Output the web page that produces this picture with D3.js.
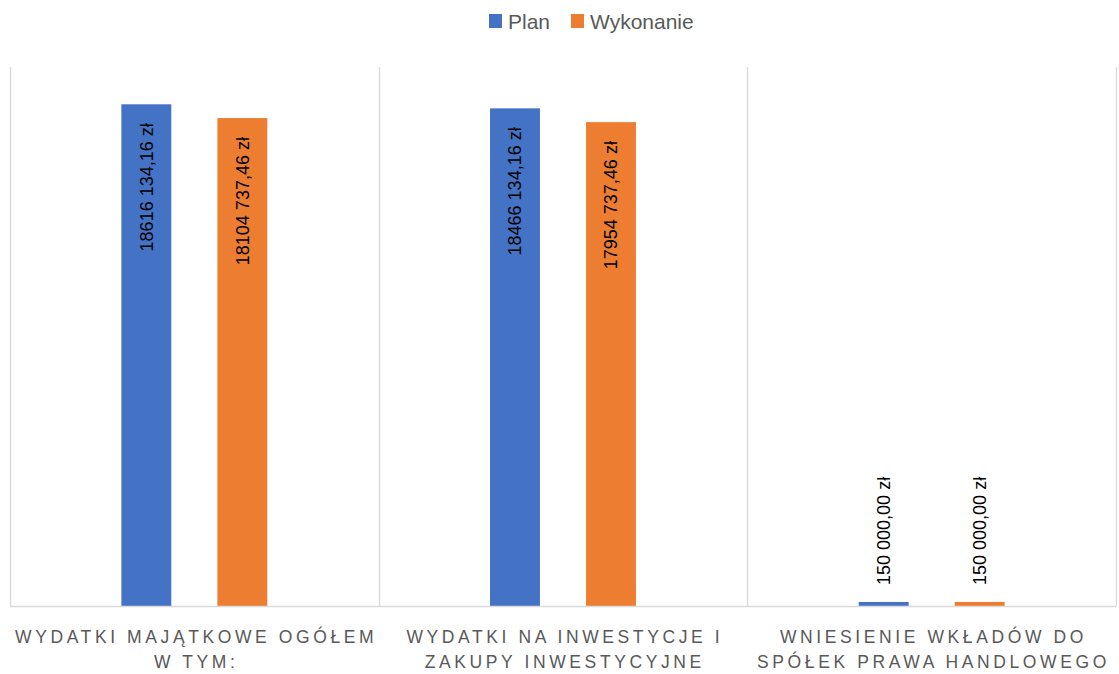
<!DOCTYPE html>
<html lang="pl">
<head>
<meta charset="UTF-8">
<title>Plan i wykonanie</title>
<style>
  html, body { margin: 0; padding: 0; background: #fff; }
  text { font-family: "Liberation Sans", "DejaVu Sans", sans-serif; }
</style>
</head>
<body>
<div id="chart"></div>
<script src="https://d3js.org/d3.v7.min.js"></script>
<script>
// data
const categories = [
  ["WYDATKI MAJĄTKOWE OGÓŁEM", "W TYM:"],
  ["WYDATKI NA INWESTYCJE I", "ZAKUPY INWESTYCYJNE"],
  ["WNIESIENIE WKŁADÓW DO", "SPÓŁEK PRAWA HANDLOWEGO"]
];
const series = ["Plan", "Wykonanie"];
const planValues = [18616134.16, 18466134.16, 150000.00];
const wykonanieValues = [18104737.46, 17954737.46, 150000.00];
const colors = ["#4472C4", "#ED7D31"];
const yMax = 20000000;

const width = 1119, height = 674;
const margin = { top: 67, right: 3, bottom: 68, left: 10 };

const svg = d3.select("#chart").append("svg")
  .attr("width", width)
  .attr("height", height);

const catIdx = categories.map((d, i) => i);

const x0 = d3.scaleBand()
  .domain(catIdx)
  .range([margin.left, width - margin.right])
  .padding(0);

const x1 = d3.scaleBand()
  .domain(series)
  .range([0, x0.bandwidth()])
  .paddingInner(0.48)
  .paddingOuter(1.16);

const y = d3.scaleLinear()
  .domain([0, yMax])
  .range([height - margin.bottom, margin.top]);

// vertical separators between categories
const bounds = catIdx.map(i => x0(i)).concat([x0(catIdx.length - 1) + x0.bandwidth()]);
svg.append("g")
  .selectAll("line")
  .data(bounds)
  .join("line")
    .attr("x1", d => Math.round(d) + 0.5)
    .attr("x2", d => Math.round(d) + 0.5)
    .attr("y1", y(yMax))
    .attr("y2", y(0))
    .attr("stroke", "#d9d9d9")
    .attr("stroke-width", 1.3);

// build rows
const rows = [];
catIdx.forEach(i => {
  rows.push({ cat: i, s: series[0], v: planValues[i], c: colors[0] });
  rows.push({ cat: i, s: series[1], v: wykonanieValues[i], c: colors[1] });
});

svg.append("g")
  .selectAll("rect")
  .data(rows)
  .join("rect")
    .attr("x", d => x0(d.cat) + x1(d.s))
    .attr("y", d => y(d.v))
    .attr("width", x1.bandwidth())
    .attr("height", d => y(0) - y(d.v))
    .attr("fill", d => d.c);

// baseline
svg.append("line")
  .attr("x1", x0.range()[0])
  .attr("x2", x0.range()[1])
  .attr("y1", y(0) + 0.5)
  .attr("y2", y(0) + 0.5)
  .attr("stroke", "#d9d9d9")
  .attr("stroke-width", 1.3);

// Excel-ish "18616 134,16 zł" format
function fmt(v) {
  const cents = Math.round(v * 100);
  const intPart = Math.floor(cents / 100);
  const dec = String(cents % 100).padStart(2, "0");
  const hi = Math.floor(intPart / 1000);
  const lo = String(intPart % 1000).padStart(3, "0");
  return (hi > 0 ? hi + " " + lo : String(intPart % 1000)) + "," + dec + " zł";
}

// data labels
const isInside = d => (y(0) - y(d.v)) > 160;
svg.append("g")
  .selectAll("text")
  .data(rows)
  .join("text")
    .attr("transform", d => {
      const cx = x0(d.cat) + x1(d.s) + x1.bandwidth() / 2;
      const ty = isInside(d) ? y(d.v) + 19 : y(d.v) - 17;
      return `translate(${cx},${ty}) rotate(-90)`;
    })
    .attr("text-anchor", d => isInside(d) ? "end" : "start")
    .attr("dy", "0.35em")
    .attr("font-size", 18)
    .attr("fill", "#000")
    .text(d => fmt(d.v));

// category labels
const catG = svg.append("g")
  .selectAll("text")
  .data(catIdx)
  .join("text")
    .attr("text-anchor", "middle")
    .attr("font-size", 17.5)
    .attr("letter-spacing", 3.6)
    .attr("fill", "#595959");
catG.each(function (i) {
  const t = d3.select(this);
  categories[i].forEach((line, k) => {
    t.append("tspan")
      .attr("x", x0(i) + x0.bandwidth() / 2 + 1.8)
      .attr("y", 643 + k * 25)
      .text(line);
  });
});

// legend
const legend = svg.append("g");
const legendItems = [
  { name: series[0], color: colors[0], x: 489 },
  { name: series[1], color: colors[1], x: 571 }
];
const li = legend.selectAll("g")
  .data(legendItems)
  .join("g")
    .attr("transform", d => `translate(${d.x},0)`);
li.append("rect")
  .attr("x", 0)
  .attr("y", 14)
  .attr("width", 13)
  .attr("height", 14)
  .attr("fill", d => d.color);
li.append("text")
  .attr("x", 19)
  .attr("y", 29)
  .attr("font-size", 21)
  .attr("fill", "#595959")
  .text(d => d.name);
</script>
</body>
</html>
